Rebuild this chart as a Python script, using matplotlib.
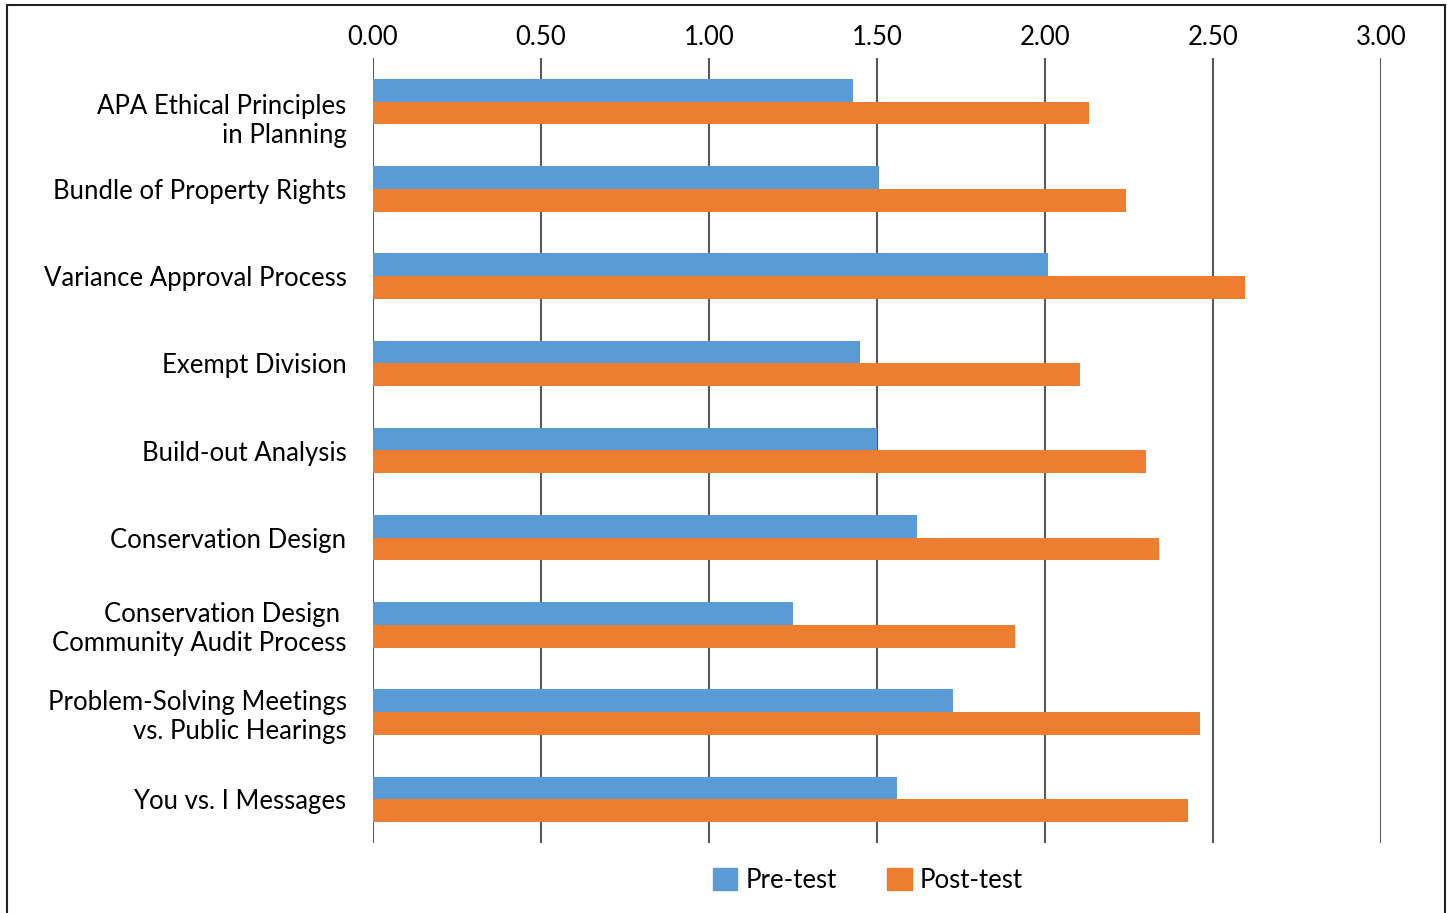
import matplotlib.pyplot as plt
from matplotlib.patches import Rectangle, Patch
from matplotlib.transforms import ScaledTranslation
import numpy as np

categories = [
    "APA Ethical Principles\nin Planning",
    "Bundle of Property Rights",
    "Variance Approval Process",
    "Exempt Division",
    "Build-out Analysis",
    "Conservation Design",
    "Conservation Design \nCommunity Audit Process",
    "Problem-Solving Meetings\nvs. Public Hearings",
    "You vs. I Messages",
]
pre_test = [1.43, 1.505, 2.01, 1.45, 1.50, 1.62, 1.25, 1.725, 1.56]
post_test = [2.13, 2.24, 2.595, 2.105, 2.30, 2.34, 1.91, 2.46, 2.425]
ticks = [0.0, 0.5, 1.0, 1.5, 2.0, 2.5, 3.0]

blue = "#5B9BD5"
orange = "#ED7D31"
grid_col = "#595959"

plt.rcParams['font.family'] = ['Lato', 'DejaVu Sans']

fig = plt.figure(figsize=(14.47, 9.13), dpi=100)
ax = fig.add_axes([373 / 1447, 1 - 843 / 913, 1008 / 1447, 785 / 913])

y = np.arange(len(categories))
h = 0.26
ax.barh(y - h / 2, pre_test, height=h, color=blue, zorder=3, label="Pre-test")
ax.barh(y + h / 2, post_test, height=h, color=orange, zorder=3, label="Post-test")

ax.set_ylim(len(categories) - 0.5, -0.5)
ax.set_xlim(0, 3.0)
ax.set_xticks(ticks)
ax.set_xticklabels([f"{t:.2f}" for t in ticks])
ax.xaxis.tick_top()
ax.tick_params(axis="x", length=0, pad=6, labelsize=18.5)
ax.set_yticks(y)
ax.set_yticklabels(categories, fontsize=18.5, linespacing=1.2)
ax.tick_params(axis="y", length=0, pad=19)
for t in ticks:
    ax.axvline(t, color=grid_col, lw=1.5, zorder=1)
for s in ax.spines.values():
    s.set_visible(False)

# the first label sits a little lower than its bars in the original
first = ax.get_yticklabels()[0]
first.set_transform(first.get_transform() + ScaledTranslation(0, -0.15, fig.dpi_scale_trans))

handles = [Patch(color=blue, label="Pre-test"), Patch(color=orange, label="Post-test")]
fig.legend(handles=handles, loc="center", bbox_to_anchor=(868 / 1447, 1 - 880 / 913),
           ncol=2, frameon=False, fontsize=18.5, handlelength=0.95, handleheight=0.95,
           columnspacing=1.95, handletextpad=0.33)

fig.add_artist(Rectangle((7 / 1447, -0.01), 1438 / 1447, 1 - 5 / 913 + 0.01,
                         transform=fig.transFigure, fill=False, ec="#222222", lw=1.5))

fig.savefig("out.png", dpi=100)
